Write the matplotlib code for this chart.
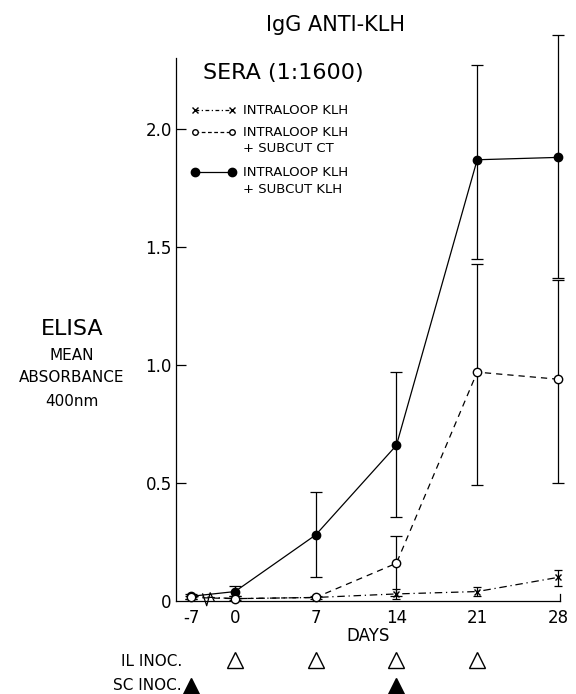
import numpy as np
import matplotlib.pyplot as plt
from matplotlib.lines import Line2D
import matplotlib.transforms as mtransforms

# datos
days = np.array([-7, 0, 7, 14, 21, 28])

klh_sc_klh = np.array([0.02, 0.04, 0.28, 0.66, 1.87, 1.88])
klh_sc_klh_hi = np.array([0.03, 0.065, 0.46, 0.97, 2.27, 2.40])
klh_sc_klh_lo = np.array([0.01, 0.02, 0.10, 0.355, 1.45, 1.37])

klh_sc_ct = np.array([0.015, 0.01, 0.015, 0.16, 0.97, 0.94])
klh_sc_ct_hi = np.array([0.02, 0.02, 0.02, 0.275, 1.43, 1.36])
klh_sc_ct_lo = np.array([0.01, 0.005, 0.01, 0.02, 0.49, 0.50])

klh_only = np.array([0.02, 0.01, 0.015, 0.03, 0.04, 0.10])
klh_only_hi = np.array([0.03, 0.02, 0.025, 0.05, 0.06, 0.13])
klh_only_lo = np.array([0.01, 0.005, 0.01, 0.01, 0.02, 0.065])

il_days = [0, 7, 14, 21]
sc_days = [-7, 14]

xtick_days = [-7, 0, 7, 14, 21, 28]
ytick_vals = [0, 0.5, 1.0, 1.5, 2.0]
ytick_labels = ['0', '0.5', '1.0', '1.5', '2.0']


# eje x cortado entre -7 y 0
def pos(d):
    d = np.asarray(d, dtype=float)
    return np.where(d < 0, -3.8, d)


plt.rcParams['font.family'] = 'DejaVu Sans'
fig = plt.figure(figsize=(5.76, 6.94), dpi=100)
ax = fig.add_axes([0.3056, 0.134, 0.972 - 0.3056, 0.916 - 0.134])

x = pos(days)
lw = 0.9
ax.errorbar(x, klh_sc_klh, yerr=[klh_sc_klh - klh_sc_klh_lo, klh_sc_klh_hi - klh_sc_klh],
            fmt='-o', color='black', ms=6, lw=lw, elinewidth=lw, capsize=4,
            capthick=lw, clip_on=False, zorder=3)
ax.errorbar(x, klh_sc_ct, yerr=[klh_sc_ct - klh_sc_ct_lo, klh_sc_ct_hi - klh_sc_ct],
            fmt='--o', color='black', mfc='white', ms=6, lw=lw, elinewidth=lw,
            capsize=4, capthick=lw, dashes=(5, 4), clip_on=False, zorder=4)
ax.errorbar(x, klh_only, yerr=[klh_only - klh_only_lo, klh_only_hi - klh_only],
            fmt='-.x', color='black', ms=4, lw=lw, elinewidth=lw, capsize=3,
            capthick=lw, dashes=(6, 3, 1, 3), clip_on=False, zorder=3)

# marca de corte del eje
ax.plot([-2.8, -2.45, -2.15, -1.8], [0.03, -0.02, 0.035, 0.0], color='black',
        lw=lw, clip_on=False, zorder=5)

ax.set_xlim(-5.11, 28.17)
ax.set_ylim(0, 2.30)
ax.set_xticks(pos(xtick_days))
ax.set_xticklabels([str(d) for d in xtick_days])
ax.set_yticks(ytick_vals)
ax.set_yticklabels(ytick_labels)
ax.tick_params(axis='y', direction='in', length=7, width=lw, pad=3, labelsize=12)
ax.tick_params(axis='x', length=0, pad=6, labelsize=12)
ax.spines['top'].set_visible(False)
ax.spines['right'].set_bounds(0, 0.03)
for s in ['left', 'bottom', 'right']:
    ax.spines[s].set_linewidth(lw)
ax.yaxis.get_ticklines()[0].set_visible(False)

# titulos
fig.text(335 / 576, 1 - 25 / 694, 'IgG ANTI-KLH', ha='center', va='center', fontsize=15)
fig.text(203 / 576, 1 - 73 / 694, 'SERA (1:1600)', ha='left', va='center', fontsize=16)

# eje y
fig.text(72 / 576, 1 - 329 / 694, 'ELISA', ha='center', va='center', fontsize=16)
fig.text(72 / 576, 1 - 356 / 694, 'MEAN', ha='center', va='center', fontsize=11)
fig.text(72 / 576, 1 - 378 / 694, 'ABSORBANCE', ha='center', va='center', fontsize=11)
fig.text(72 / 576, 1 - 401 / 694, '400nm', ha='center', va='center', fontsize=11)

ax.set_xlabel('DAYS', fontsize=12, labelpad=0)

# leyenda dibujada a mano
def leg_line(py, **kw):
    fig.add_artist(Line2D([195 / 576, 232 / 576], [1 - py / 694] * 2, color='black',
                          lw=lw, transform=fig.transFigure, **kw))

leg_line(110, ls=(0, (3, 2, 1, 2)), marker='x', ms=4)
leg_line(132, ls=(0, (3, 2)), marker='o', ms=4, mfc='white')
leg_line(172, ls='-', marker='o', ms=6)
fs_leg = 9.5
fig.text(243 / 576, 1 - 110 / 694, 'INTRALOOP KLH', va='center', fontsize=fs_leg)
fig.text(243 / 576, 1 - 132 / 694, 'INTRALOOP KLH', va='center', fontsize=fs_leg)
fig.text(243 / 576, 1 - 148 / 694, '+ SUBCUT CT', va='center', fontsize=fs_leg)
fig.text(243 / 576, 1 - 172 / 694, 'INTRALOOP KLH', va='center', fontsize=fs_leg)
fig.text(243 / 576, 1 - 190 / 694, '+ SUBCUT KLH', va='center', fontsize=fs_leg)

# inoculaciones
trans = mtransforms.blended_transform_factory(ax.transData, fig.transFigure)
ax.plot(pos(il_days), [1 - 660 / 694] * len(il_days), ls='none', marker='^', ms=12,
        mfc='white', mec='black', mew=1, transform=trans, clip_on=False)
ax.plot(pos(sc_days), [1 - 686 / 694] * len(sc_days), ls='none', marker='^', ms=12,
        color='black', transform=trans, clip_on=False)
fig.text(182 / 576, 1 - 661 / 694, 'IL INOC.', ha='right', va='center', fontsize=11)
fig.text(182 / 576, 1 - 686 / 694, 'SC INOC.', ha='right', va='center', fontsize=11)

fig.savefig('out.png', dpi=100, facecolor='white')
